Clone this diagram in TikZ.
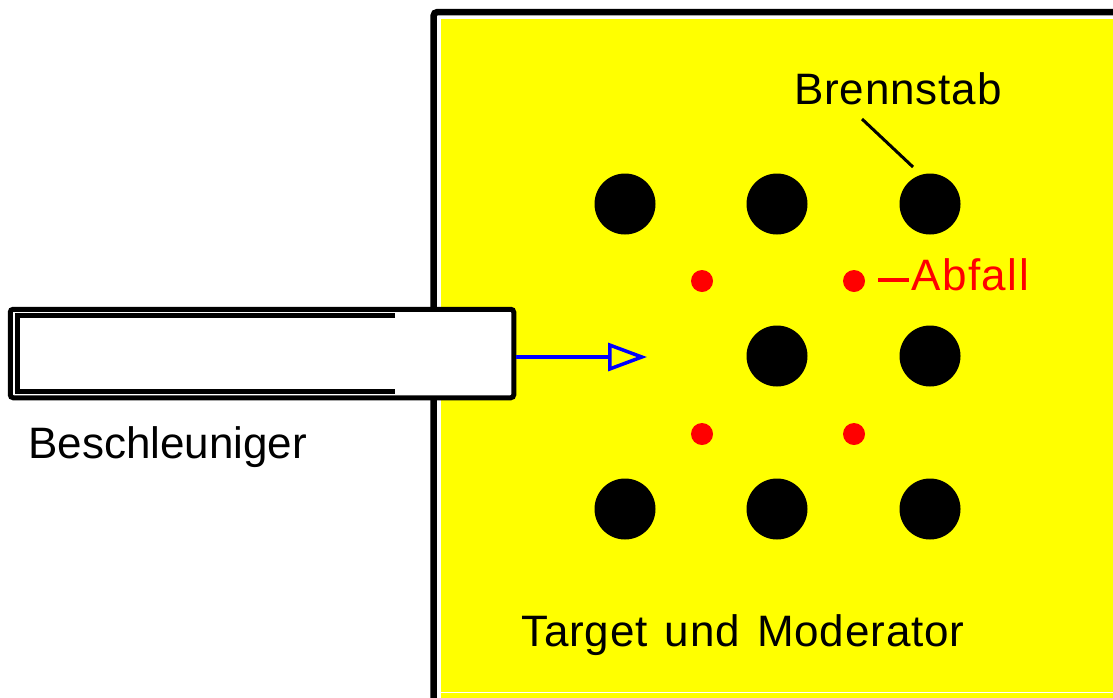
\documentclass[tikz,border=0pt]{standalone}
\usepackage{fontspec}
\setmainfont{Liberation Sans}
\usetikzlibrary{arrows.meta}
\definecolor{bgyellow}{RGB}{255,255,0}
\definecolor{pureblue}{RGB}{0,0,255}
\definecolor{purered}{RGB}{255,0,0}
\begin{document}
\begin{tikzpicture}[x=1pt,y=-1pt,
  rod/.style={circle,fill=black,minimum size=61pt,inner sep=0pt},
  waste/.style={circle,fill=purered,minimum size=22pt,inner sep=0pt},
  lbl/.style={anchor=base west,inner sep=0pt,font=\fontsize{44}{50}\selectfont},
]
\useasboundingbox (0,0) rectangle (1113,697);
\clip (0,0) rectangle (1113,697);
\fill[white] (0,0) rectangle (1113,697);
% target / moderator block
\fill[bgyellow] (441,19) rectangle (1120,700);
\draw[white,line width=1pt] (441,692.5) -- (1120,692.5);
\draw[line width=6.5pt,rounded corners=4pt] (433.5,710) -- (433.5,12) -- (1120,12);
% accelerator tube
\node[draw,line width=5pt,fill=white,rounded corners=3pt,minimum width=503.5pt,minimum height=88.5pt,inner sep=0pt] (tube) at (262,353.5) {};
\draw[line width=5pt] (395,315.5) -- (17,315.5) -- (17,391) -- (395,391);
% beam
\coordinate (beamtip) at (647,357);
\draw[pureblue,line width=3.5pt,-{Triangle[open,length=39pt,width=28pt]}] (tube.east |- beamtip) -- (beamtip);
% fuel rods
\node[rod] (r11) at (625,204) {};
\node[rod] (r12) at (777,204) {};
\node[rod] (r13) at (930,204) {};
\node[rod] (r22) at (777,356) {};
\node[rod] (r23) at (930,356) {};
\node[rod] (r31) at (625,509) {};
\node[rod] (r32) at (777,509) {};
\node[rod] (r33) at (930,509) {};
% waste
\node[waste] (w1) at (702,281) {};
\node[waste] (w2) at (854,281) {};
\node[waste] (w3) at (702,434) {};
\node[waste] (w4) at (854,434) {};
% labels
\node[lbl] (brenn) at (794,104) {\addfontfeatures{LetterSpace=2}Brennstab};
\node[lbl,text=purered] (abfall) at (911,290) {\addfontfeatures{LetterSpace=3.5}Abfall};
\node[lbl] (beschl) at (28,458) {Beschleuniger};
\node[lbl] (target) at (521,646) {\addfontfeatures{LetterSpace=2}\spaceskip=17pt\relax Target und Moderator};
% leaders
\coordinate (bs1) at (862,119);
\coordinate (bs2) at (913,167);
\draw[line width=3pt] (bs1) -- (bs2);
\coordinate (ab1) at (878,280);
\draw[purered,line width=3.5pt,shorten >=2pt] (ab1) -- (abfall.west |- ab1);
\end{tikzpicture}
\end{document}
